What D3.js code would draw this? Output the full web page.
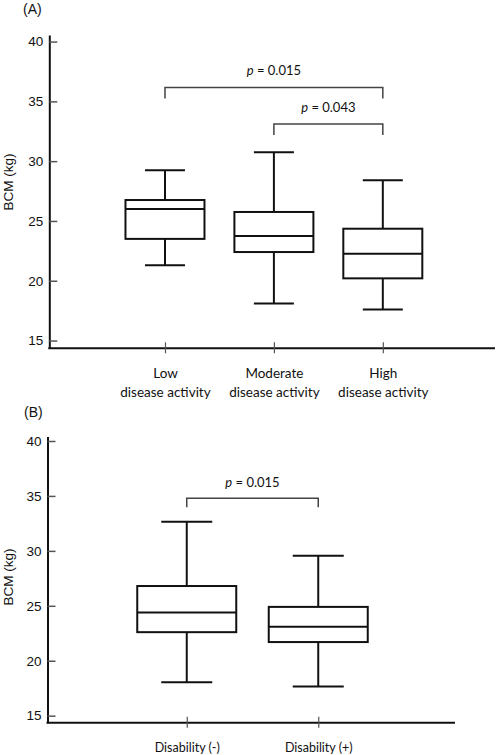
<!DOCTYPE html>
<html><head><meta charset="utf-8">
<script src="https://cdn.jsdelivr.net/npm/d3@7"></script>
<style>body{margin:0;background:#fff} svg{display:block}</style>
</head><body><svg id="c" width="498" height="755"></svg>
<script>
// ---- data ----
const yTicks = [15, 20, 25, 30, 35, 40];

const catsA = ["Low|disease activity", "Moderate|disease activity", "High|disease activity"];
const minA = [21.3, 18.1, 17.6];
const q1A  = [23.5, 22.4, 20.2];
const medA = [26.0, 23.75, 22.25];
const q3A  = [26.75, 25.75, 24.35];
const maxA = [29.25, 30.75, 28.4];
const bracketFromA  = [0, 1];
const bracketToA    = [2, 2];
const bracketLevelA = [36.15, 33.1];
const bracketPA     = ["0.015", "0.043"];

const catsB = ["Disability (-)", "Disability (+)"];
const minB = [18.05, 17.65];
const q1B  = [22.6, 21.7];
const medB = [24.4, 23.1];
const q3B  = [26.8, 24.9];
const maxB = [32.65, 29.55];
const bracketFromB  = [0];
const bracketToB    = [1];
const bracketLevelB = [34.8];
const bracketPB     = ["0.015"];

// ---- drawing ----
const svg = d3.select("#c");
const axisFont = "'Liberation Sans', Arial, sans-serif";
const labelFont = "Lato, 'Open Sans', sans-serif";

function panel(o) {
  const g = svg.append("g");
  const y = d3.scaleLinear().domain(o.yDomain).range([o.bottom, o.top]);
  const x = d3.scalePoint().domain(o.cats).range([o.left + o.xShift, o.right]).padding(o.pad);

  // panel letter
  g.append("text").attr("x", o.letterX).attr("y", o.letterY)
    .attr("font-family", axisFont).attr("font-size", 14).attr("fill", "#111").text(o.letter);

  // y axis
  const ya = g.append("g").attr("transform", `translate(${o.left},0)`)
    .call(d3.axisLeft(y).tickValues(yTicks).tickSizeInner(-8).tickSizeOuter(0).tickPadding(6));
  ya.select(".domain").attr("stroke", "#111").attr("stroke-width", 2);
  ya.selectAll(".tick line").attr("stroke", "#555").attr("stroke-width", 1.5);
  ya.selectAll(".tick text").attr("font-family", axisFont).attr("font-size", 13.5).attr("fill", "#111");

  // y title
  g.append("text").attr("transform", `translate(${o.titleX},${o.titleY}) rotate(-90)`)
    .attr("text-anchor", "middle").attr("font-family", axisFont).attr("font-size", 13.5)
    .attr("fill", "#111").text("BCM (kg)");

  // x axis baseline
  g.append("line").attr("x1", o.left - 1).attr("x2", o.right).attr("y1", o.bottom).attr("y2", o.bottom)
    .attr("stroke", "#111").attr("stroke-width", 2);
  const xa = g.append("g").attr("transform", `translate(0,${o.bottom})`)
    .call(d3.axisBottom(x).tickSize(0).tickFormat(""));
  xa.select(".domain").remove();
  xa.selectAll(".tick line").attr("y1", -6).attr("y2", 5).attr("stroke", "#555").attr("stroke-width", 1.2);
  xa.selectAll(".tick").each(function(d) {
    const t = d3.select(this).append("text").attr("text-anchor", "middle")
      .attr("font-family", labelFont).attr("font-size", o.labelSize).attr("fill", "#111");
    d.split("|").forEach((s, k) => {
      t.append("tspan").attr("x", 0).attr("y", o.labelDy + k * o.lineGap).text(s);
    });
  });

  // boxes
  o.cats.forEach((c, i) => {
    const cx = x(c);
    const bg = g.append("g").attr("stroke", "#111").attr("stroke-width", 2).attr("fill", "none");
    bg.append("line").attr("x1", cx).attr("x2", cx).attr("y1", y(o.min[i])).attr("y2", y(o.max[i]));
    [o.min[i], o.max[i]].forEach(v => {
      bg.append("line").attr("x1", cx - o.capW / 2).attr("x2", cx + o.capW / 2).attr("y1", y(v)).attr("y2", y(v));
    });
    bg.append("rect").attr("x", cx - o.boxW / 2).attr("width", o.boxW)
      .attr("y", y(o.q3[i])).attr("height", y(o.q1[i]) - y(o.q3[i])).attr("fill", "#fff");
    bg.append("line").attr("x1", cx - o.boxW / 2).attr("x2", cx + o.boxW / 2)
      .attr("y1", y(o.med[i])).attr("y2", y(o.med[i]));
  });

  // significance brackets
  o.bFrom.forEach((f, j) => {
    const x1 = x(o.cats[f]), x2 = x(o.cats[o.bTo[j]]), yy = y(o.bLevel[j]);
    g.append("path").attr("d", `M${x1},${yy + o.drop}V${yy}H${x2}V${yy + o.drop}`)
      .attr("fill", "none").attr("stroke", "#444").attr("stroke-width", 1.5);
    const t = g.append("text").attr("x", (x1 + x2) / 2).attr("y", yy - o.pGap)
      .attr("text-anchor", "middle").attr("font-family", labelFont).attr("font-size", 13).attr("fill", "#111");
    t.append("tspan").attr("font-style", "italic").text("p");
    t.append("tspan").text(" = " + o.bP[j]);
  });
}

panel({
  letter: "(A)", letterX: 23, letterY: 14,
  cats: catsA, min: minA, q1: q1A, med: medA, q3: q3A, max: maxA,
  bFrom: bracketFromA, bTo: bracketToA, bLevel: bracketLevelA, bP: bracketPA,
  yDomain: [14.35, 40.55], top: 35, bottom: 348.3,
  left: 49.3, right: 495, xShift: 3.5, pad: 1.03,
  boxW: 79, capW: 40, drop: 11, pGap: 12.5,
  titleX: 13.3, titleY: 182,
  labelSize: 13.5, labelDy: 29.7, lineGap: 19.3
});

panel({
  letter: "(B)", letterX: 24, letterY: 417,
  cats: catsB, min: minB, q1: q1B, med: medB, q3: q3B, max: maxB,
  bFrom: bracketFromB, bTo: bracketToB, bLevel: bracketLevelB, bP: bracketPB,
  yDomain: [14.36, 40.4], top: 436.6, bottom: 722.7,
  left: 47.5, right: 455, xShift: 2.5, pad: 1.04,
  boxW: 99, capW: 51, drop: 9, pGap: 11.3,
  titleX: 13, titleY: 577,
  labelSize: 12.5, labelDy: 29.8, lineGap: 19
});
</script>
</body></html>
